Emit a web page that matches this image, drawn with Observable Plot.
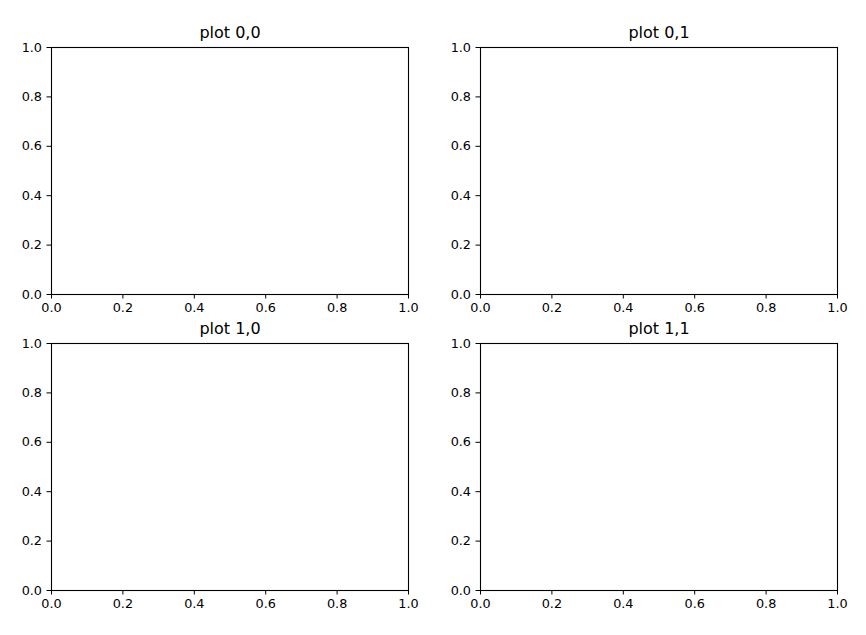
<!DOCTYPE html>
<html>
<head>
<meta charset="utf-8">
<script src="https://cdn.jsdelivr.net/npm/d3@7"></script>
<script src="https://cdn.jsdelivr.net/npm/@observablehq/plot@0.6"></script>
<style>
  html, body { margin: 0; padding: 0; background: white; }
  #wrap { position: relative; width: 866px; height: 635px; background: white; font-family: "DejaVu Sans", sans-serif; }
  #wrap svg { position: absolute; background: transparent; }
</style>
</head>
<body>
<div id="wrap"></div>
<script>
const titles = ["plot 0,0", "plot 0,1", "plot 1,0", "plot 1,1"];
const xTicks = [0, 0.2, 0.4, 0.6, 0.8, 1.0];
const yTicks = [0, 0.2, 0.4, 0.6, 0.8, 1.0];
const xDomain = [0, 1];
const yDomain = [0, 1];

// panel geometry: [left, top, width, height, marginLeft, marginTop, marginRight, marginBottom]
const panels = [
  [0, 0, 440, 318, 51, 47, 32, 24],
  [440, 0, 426, 318, 40, 47, 29, 24],
  [0, 318, 440, 317, 51, 25, 32, 45],
  [440, 318, 426, 317, 40, 25, 29, 45]
];

const wrap = document.getElementById("wrap");
panels.forEach((p, i) => {
  const [left, top, width, height, ml, mt, mr, mb] = p;
  const svg = Plot.plot({
    width, height,
    marginLeft: ml, marginTop: mt, marginRight: mr, marginBottom: mb,
    style: { fontFamily: "DejaVu Sans", fontSize: "12.8px", color: "black", background: "transparent", overflow: "visible" },
    x: { domain: xDomain, label: null },
    y: { domain: yDomain, label: null },
    marks: [
      Plot.frame({ stroke: "black", strokeWidth: 1.1 }),
      Plot.axisX({ ticks: xTicks, tickFormat: d3.format(".1f"), tickSize: 4.5, tickPadding: 4, label: null, stroke: "black", fill: "black" }),
      Plot.axisY({ ticks: yTicks, tickFormat: d3.format(".1f"), tickSize: 4.5, tickPadding: 5, label: null, stroke: "black", fill: "black" }),
      Plot.text([titles[i]], { text: d => d, frameAnchor: "top", lineAnchor: "bottom", dy: -10, fontSize: 16, fill: "black", fontFamily: "DejaVu Sans" })
    ]
  });
  svg.querySelectorAll("text").forEach(t => {
    t.style.setProperty("font-family", "'DejaVu Sans', sans-serif");
    if (!titles.includes(t.textContent)) {
      t.style.setProperty("font-size", "12.8px");
      t.style.setProperty("font-variant", "normal");
    }
  });
  svg.style.left = left + "px";
  svg.style.top = top + "px";
  wrap.appendChild(svg);
});
</script>
</body>
</html>
